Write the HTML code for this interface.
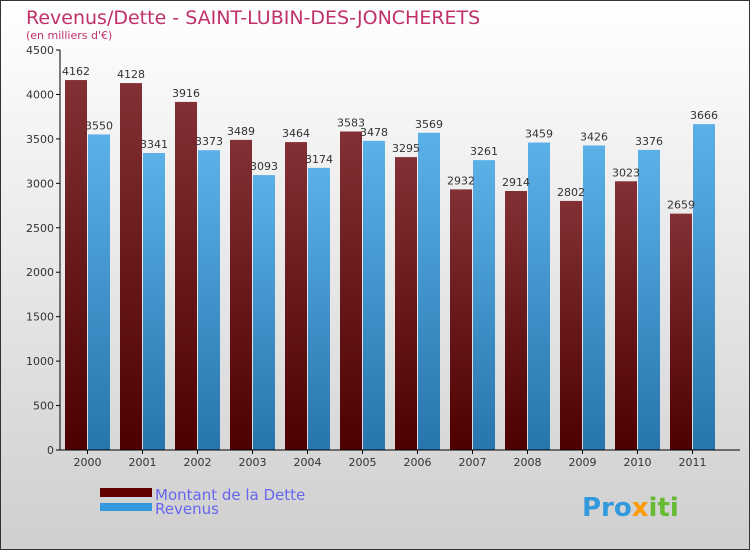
<!DOCTYPE html>
<html><head><meta charset="utf-8"><style>
body{margin:0}
#c{width:750px;height:550px;position:relative;overflow:hidden;font-family:"DejaVu Sans","Liberation Sans",sans-serif;}
</style></head><body>
<div id="c">
<svg id="s" width="750" height="550" xmlns="http://www.w3.org/2000/svg">
<defs>
<linearGradient id="bg" x1="0" y1="0" x2="0" y2="1"><stop offset="0" stop-color="#ffffff"/><stop offset="1" stop-color="#cfcfcf"/></linearGradient>
<linearGradient id="gd" x1="0" y1="0" x2="0" y2="1"><stop offset="0" stop-color="#823035"/><stop offset="1" stop-color="#4e0000"/></linearGradient>
<linearGradient id="gr" x1="0" y1="0" x2="0" y2="1"><stop offset="0" stop-color="#5cb0e8"/><stop offset="1" stop-color="#2775ad"/></linearGradient>
</defs>
<rect x="0.5" y="0.5" width="749" height="549" fill="url(#bg)" stroke="#333"/>
<text x="26" y="24" font-size="19" fill="#c0306a">Revenus/Dette - SAINT-LUBIN-DES-JONCHERETS</text>
<text x="26" y="39" font-size="11" fill="#c0306a">(en milliers d'€)</text>
<g id="plot"></g>
<rect x="100" y="488" width="52" height="9" fill="#600000"/>
<text x="155" y="500" font-size="15" fill="#6666ee">Montant de la Dette</text>
<rect x="100" y="503" width="52" height="8" fill="#3399dd"/>
<text x="155" y="514" font-size="15" fill="#6666ee">Revenus</text>
<text x="582" y="516" font-size="26" font-weight="bold"><tspan fill="#3399dd">Pro</tspan><tspan fill="#ff9900">x</tspan><tspan fill="#66bb33">iti</tspan></text>
</svg>
</div>
<script>
const years=["2000","2001","2002","2003","2004","2005","2006","2007","2008","2009","2010","2011"];
const dette=[4162,4128,3916,3489,3464,3583,3295,2932,2914,2802,3023,2659];
const revenus=[3550,3341,3373,3093,3174,3478,3569,3261,3459,3426,3376,3666];
const yTicks=[0,500,1000,1500,2000,2500,3000,3500,4000,4500];
const NS="http://www.w3.org/2000/svg";
const g=document.getElementById("plot");
const y0=450,yTop=50,vMax=4500;
function y(v){return y0-(v/vMax)*(y0-yTop);}
function xc(i){return 87.5+i*55;}
function mk(t,a,txt){const e=document.createElementNS(NS,t);for(const k in a)e.setAttribute(k,a[k]);if(txt!==undefined)e.textContent=txt;g.appendChild(e);return e;}
yTicks.forEach(v=>{
 const l=mk("line",{x1:56,x2:60,y1:y(v),y2:y(v),stroke:"#000"});
 
 
 const t=mk("text",{x:54,y:y(v)+4,"font-size":11,"text-anchor":"end",fill:"#333"},v);
 
 
});
years.forEach((yr,i)=>{
 const c=xc(i);
 const b1=mk("rect",{x:c-22.5,y:y(dette[i]),width:22,height:y0-y(dette[i]),fill:"url(#gd)"});
 
 
 const b2=mk("rect",{x:c+0.5,y:y(revenus[i]),width:22,height:y0-y(revenus[i]),fill:"url(#gr)"});
 
 
 const t1=mk("text",{x:c-11.5,y:y(dette[i])-5,"font-size":11,"text-anchor":"middle",fill:"#333"},dette[i]);
 
 
 const t2=mk("text",{x:c+11.5,y:y(revenus[i])-5,"font-size":11,"text-anchor":"middle",fill:"#333"},revenus[i]);
 
 
 const tk=mk("line",{x1:c,x2:c,y1:y0,y2:y0+4,stroke:"#000"});
 
 
 const xl=mk("text",{x:c,y:466,"font-size":11,"text-anchor":"middle",fill:"#333"},yr);
 
 
});
const ax=mk("line",{x1:60,x2:60,y1:yTop,y2:y0,stroke:"#000"});


const bx=mk("line",{x1:60,x2:740,y1:y0,y2:y0,stroke:"#000"});


</script>
</body></html>
